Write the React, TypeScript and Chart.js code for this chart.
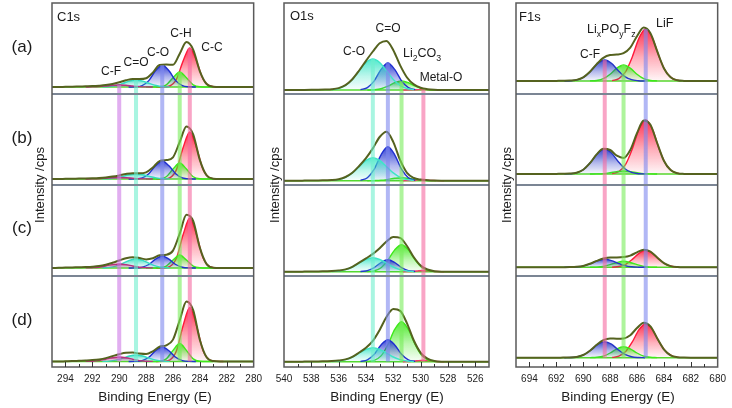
import React, { useEffect, useRef } from "react";
import { Chart, registerables } from "chart.js";

Chart.register(...registerables);

const FONT = '"Liberation Sans", Arial, Helvetica, sans-serif';
const STEP = 0.5;
const ROW_LABELS = ["(a)", "(b)", "(c)", "(d)"];
const ROW_OFFSET = [273, 182, 91, 0];
const Y_MAX = 364;

// ---------------- C1s ----------------
const C1S_RANGE = [280, 295];
const C1S_ENV_START = 295;
const C1S_BASE = [7, 6, 8, 5.5];
const C1S_ENV_A = [0, 0, 0.2, 0.3, 0.5, 0.7, 0.9, 1.3, 1.9, 3, 4.8, 6.7, 8, 7.9, 8.7, 14.4, 21.9, 22.4, 22.3, 33.3, 44.9, 37.4, 15.7, 3, 0.3, 0, 0, 0, 0, 0, 0];
const C1S_ENV_B = [0, 0, 0.2, 0.3, 0.4, 0.5, 0.7, 1, 1.5, 2.4, 3.6, 5, 5.8, 5.7, 6.7, 11.5, 17.9, 18.9, 21.7, 37, 52.6, 44.7, 18.9, 3.6, 0.3, 0, 0, 0, 0, 0, 0];
const C1S_ENV_C = [0, 0.2, 0.4, 0.6, 0.8, 1, 1.3, 1.9, 3.2, 5.2, 7.5, 9.8, 10.8, 10, 8.6, 9.7, 12.7, 13.2, 17.4, 34.4, 53.3, 47, 20.1, 3.9, 0.35, 0, 0, 0, 0, 0, 0];
const C1S_ENV_D = [0, 0, 0.2, 0.4, 0.7, 1, 1.4, 2.1, 3.4, 5.4, 7.3, 8.7, 8.9, 7.9, 7.4, 10.2, 14.8, 16.2, 21.9, 41.2, 60.1, 51.3, 21.6, 4.2, 0.4, 0, 0, 0, 0, 0, 0];
// first sample energy of each fitted component (C-F, C=O, C-O, C-H, C-C)
const C1S_COMP_START = [292.5, 291.25, 289.3, 288, 287.25];
const C1S_CF = [
  [0, 0.1, 0.4, 1, 1.7, 2, 1.7, 1, 0.4, 0.1, 0],
  [0, 0.1, 0.3, 0.8, 1.3, 1.5, 1.3, 0.8, 0.3, 0.1, 0],
  [0.1, 0.3, 0.8, 2, 3.4, 4, 3.4, 2, 0.8, 0.3, 0.1],
  [0.1, 0.3, 0.9, 2.3, 3.8, 4.5, 3.8, 2.3, 0.9, 0.3, 0.1],
];
const C1S_CEO = [
  [0.1, 0.4, 1.5, 3.5, 5.9, 7, 5.9, 3.5, 1.5, 0.4, 0.1],
  [0.1, 0.3, 1.1, 2.5, 4.2, 5, 4.2, 2.5, 1.1, 0.3, 0.1],
  [0.1, 0.6, 1.9, 4.5, 7.6, 9, 7.6, 4.5, 1.9, 0.6, 0.1],
  [0.1, 0.4, 1.4, 3.3, 5.5, 6.5, 5.5, 3.3, 1.4, 0.4, 0.1],
];
const C1S_CO = [
  [0, 0.2, 1.4, 6.4, 16.2, 22, 16.2, 6.4, 1.4, 0.2, 0],
  [0, 0.1, 1.1, 5.3, 13.2, 18, 13.2, 5.3, 1.1, 0.1, 0],
  [0, 0.1, 0.8, 3.5, 8.8, 12, 8.8, 3.5, 0.8, 0.1, 0],
  [0, 0.1, 0.9, 4.2, 10.7, 14.5, 10.7, 4.2, 0.9, 0.1, 0],
];
const C1S_CH = [
  [0, 0, 0.2, 2.2, 9.3, 15, 9.3, 2.2, 0.2, 0, 0],
  [0, 0, 0.2, 2.3, 9.9, 16, 9.9, 2.3, 0.2, 0, 0],
  [0, 0, 0.2, 1.9, 8, 13, 8, 1.9, 0.2, 0, 0],
  [0, 0, 0.2, 2.6, 11.1, 18, 11.1, 2.6, 0.2, 0, 0],
];
const C1S_CC = [
  [0, 0.1, 1, 7.6, 25.9, 39, 25.9, 7.6, 1, 0.1, 0],
  [0, 0.1, 1.2, 9.1, 31.2, 47, 31.2, 9.1, 1.2, 0.1, 0],
  [0, 0.1, 1.3, 9.7, 33.2, 50, 33.2, 9.7, 1.3, 0.1, 0],
  [0, 0.1, 1.4, 10.5, 35.8, 54, 35.8, 10.5, 1.4, 0.1, 0],
];

// ---------------- O1s ----------------
const O1S_RANGE = [525, 540];
const O1S_ENV_START = 540;
const O1S_BASE = [4, 4.3, 4.3, 5.3];
const O1S_ENV_A = [0, 0, 0, 0.1, 0.2, 0.3, 0.5, 0.8, 1.9, 4.8, 10.7, 19.5, 29.2, 38.5, 46.8, 49.1, 39.8, 24.6, 12.5, 5.6, 2.2, 0.8, 0.2, 0, 0, 0, 0, 0, 0, 0, 0];
const O1S_ENV_B = [0, 0, 0, 0.1, 0.2, 0.3, 0.5, 0.7, 1.5, 3.7, 7.9, 14.7, 22.5, 32.3, 43.7, 48.9, 38.6, 20.5, 7.8, 2.7, 1.1, 0.5, 0.15, 0, 0, 0, 0, 0, 0, 0, 0];
const O1S_ENV_C = [0, 0, 0, 0.1, 0.2, 0.3, 0.5, 0.7, 1.2, 2.3, 4.9, 9, 13.3, 17.8, 23.5, 30.2, 34.6, 33.8, 25.7, 14.4, 6.1, 2.2, 0.55, 0.05, 0, 0, 0, 0, 0, 0, 0];
const O1S_ENV_D = [0, 0, 0, 0.1, 0.2, 0.3, 0.5, 0.7, 1.2, 2.3, 4.9, 9.2, 13.9, 20.8, 31.8, 44.7, 52.6, 50.8, 38.3, 21.2, 8.9, 3.1, 0.7, 0.06, 0, 0, 0, 0, 0, 0, 0];
// C-O, C=O, Li2CO3, Metal-O
const O1S_COMP_START = [536.5, 534.4, 533.9, 531.3];
const O1S_CO = [
  [0.4, 1.5, 4.5, 10.5, 19.2, 27.5, 31, 27.5, 19.2, 10.5, 4.5, 1.5, 0.4],
  [0.3, 1.1, 3.4, 7.8, 14.2, 20.4, 23, 20.4, 14.2, 7.8, 3.4, 1.1, 0.3],
  [0.2, 0.7, 2, 4.7, 8.7, 12.4, 14, 12.4, 8.7, 4.7, 2, 0.7, 0.2],
  [0.2, 0.7, 2, 4.7, 8.7, 12.4, 14, 12.4, 8.7, 4.7, 2, 0.7, 0.2],
];
const O1S_CEO = [
  [0.4, 2.4, 9.2, 20.6, 27, 20.6, 9.2, 2.4, 0.4],
  [0.4, 3, 11.5, 25.9, 34, 25.9, 11.5, 3, 0.4],
  [0.2, 1.1, 4.1, 9.2, 12, 9.2, 4.1, 1.1, 0.2],
  [0.3, 1.9, 7.5, 16.8, 22, 16.8, 7.5, 1.9, 0.3],
];
const O1S_LCO = [
  [0, 0.3, 1.3, 3.8, 7.3, 9, 7.3, 3.8, 1.3, 0.3, 0],
  [0, 0.1, 0.4, 1.3, 2.4, 3, 2.4, 1.3, 0.4, 0.1, 0],
  [0.1, 0.9, 3.9, 11.5, 21.8, 27, 21.8, 11.5, 3.9, 0.9, 0.1],
  [0.2, 1.3, 5.8, 17, 32.3, 40, 32.3, 17, 5.8, 1.3, 0.2],
];
const O1S_MO = [
  [0, 0.1, 0.3, 0.5, 0.3, 0.1, 0],
  [0, 0.1, 0.3, 0.5, 0.3, 0.1, 0],
  [0, 0.2, 0.7, 1.2, 0.7, 0.2, 0],
  [0, 0.2, 0.9, 1.5, 0.9, 0.2, 0],
];

// ---------------- F1s ----------------
const F1S_RANGE = [680, 695];
const F1S_ENV_START = 695;
const F1S_BASE = [13, 11, 8.7, 9.3];
const F1S_ENV_A = [0, 0, 0, 0, 0, 0, 0.1, 0.2, 0.4, 1.1, 3.6, 9.2, 16.9, 23.2, 25.9, 26.4, 27.8, 33.4, 44.8, 53.4, 47.8, 29.9, 12.8, 3.7, 0.7, 0.1, 0, 0, 0, 0, 0];
const F1S_ENV_B = [0, 0, 0, 0, 0, 0, 0.1, 0.2, 0.4, 1.3, 4.3, 10.8, 19.6, 25.2, 24, 18.3, 16.1, 24, 40.8, 53.6, 49.2, 31, 13.3, 3.9, 0.8, 0.1, 0, 0, 0, 0, 0];
const F1S_ENV_C = [0, 0, 0, 0, 0, 0, 0, 0.1, 0.2, 0.5, 1.4, 3.5, 6.4, 8.8, 9.9, 9.9, 10.2, 11.7, 15, 17.6, 15.7, 9.8, 4.2, 1.2, 0.2, 0, 0, 0, 0, 0, 0];
const F1S_ENV_D = [0, 0, 0, 0, 0, 0, 0, 0.1, 0.2, 0.8, 2.7, 7, 12.9, 17.5, 19.2, 19, 19.3, 22.5, 29.6, 35, 31.3, 19.5, 8.4, 2.4, 0.5, 0.1, 0, 0, 0, 0, 0];
// C-F, LixPOyFz, LiF
const F1S_COMP_START = [691.4, 689.5, 687.85];
const F1S_CF = [
  [0, 0.3, 1.3, 4.4, 10.5, 17.7, 21, 17.7, 10.5, 4.4, 1.3, 0.3, 0],
  [0.1, 0.3, 1.6, 5.3, 12.5, 21, 25, 21, 12.5, 5.3, 1.6, 0.3, 0.1],
  [0, 0.1, 0.5, 1.7, 4, 6.7, 8, 6.7, 4, 1.7, 0.5, 0.1, 0],
  [0, 0.2, 1, 3.4, 8, 13.5, 16, 13.5, 8, 3.4, 1, 0.2, 0],
];
const F1S_LPF = [
  [0.1, 0.5, 2.3, 6.8, 12.9, 16, 12.9, 6.8, 2.3, 0.5, 0.1],
  [0, 0.1, 0.4, 1.3, 2.4, 3, 2.4, 1.3, 0.4, 0.1, 0],
  [0, 0.2, 0.9, 2.6, 4.8, 6, 4.8, 2.6, 0.9, 0.2, 0],
  [0.1, 0.4, 1.6, 4.7, 8.9, 11, 8.9, 4.7, 1.6, 0.4, 0.1],
];
const F1S_LIF = [
  [0.4, 2.4, 9.3, 24.1, 42.9, 52, 42.9, 24.1, 9.3, 2.4, 0.4],
  [0.4, 2.5, 9.6, 25.1, 44.6, 54, 44.6, 25.1, 9.6, 2.5, 0.4],
  [0.1, 0.8, 3, 7.9, 14, 17, 14, 7.9, 3, 0.8, 0.1],
  [0.3, 1.6, 6.1, 15.8, 28.1, 34, 28.1, 15.8, 6.1, 1.6, 0.3],
];

// ---------------- styles ----------------
const ENV_COLOR = "#55621f";
const BASELINE_COLOR = "#55d82c";
const TEXT_COLOR = "#1a1a1a";

type Part = { t: string; sub?: boolean };
type TextItem = { t?: string; parts?: Part[]; x: number; y: number; size: number; align?: string; rotate?: boolean };

const COLUMNS: any[] = [
  {
    key: "c1s",
    canvasLeft: 0,
    canvasWidth: 268,
    frameLeft: 52,
    frameRight: 257,
    range: C1S_RANGE,
    envStart: C1S_ENV_START,
    env: [C1S_ENV_A, C1S_ENV_B, C1S_ENV_C, C1S_ENV_D],
    base: C1S_BASE,
    comps: [
      { start: C1S_COMP_START[0], rows: C1S_CF, color: "#b8307e", band: "rgba(205,120,230,0.6)" },
      { start: C1S_COMP_START[1], rows: C1S_CEO, color: "#34dcc0", band: "rgba(110,238,205,0.6)" },
      { start: C1S_COMP_START[2], rows: C1S_CO, color: "#1f2fd0", band: "rgba(125,135,238,0.6)" },
      { start: C1S_COMP_START[3], rows: C1S_CH, color: "#3ee81a", band: "rgba(120,236,90,0.6)" },
      { start: C1S_COMP_START[4], rows: C1S_CC, color: "#ff1a3c", band: "rgba(245,105,160,0.6)" },
    ],
    texts: [
      { t: "C1s", x: 57, y: 17, size: 13, align: "left" },
      { t: "C-F", x: 111, y: 72, size: 12 },
      { t: "C=O", x: 136, y: 63, size: 12 },
      { t: "C-O", x: 158, y: 53, size: 12 },
      { t: "C-H", x: 181, y: 34, size: 12 },
      { t: "C-C", x: 212, y: 48, size: 12 },
      { t: ROW_LABELS[0], x: 22, y: 47, size: 17 },
      { t: ROW_LABELS[1], x: 22, y: 138, size: 17 },
      { t: ROW_LABELS[2], x: 22, y: 228, size: 17 },
      { t: ROW_LABELS[3], x: 22, y: 320, size: 17 },
      { t: "Intensity /cps", x: 40, y: 185, size: 13, rotate: true },
      { t: "Binding Energy (E)", x: 155, y: 397, size: 13.5 },
    ] as TextItem[],
  },
  {
    key: "o1s",
    canvasLeft: 262,
    canvasWidth: 238,
    frameLeft: 284,
    frameRight: 489,
    range: O1S_RANGE,
    envStart: O1S_ENV_START,
    env: [O1S_ENV_A, O1S_ENV_B, O1S_ENV_C, O1S_ENV_D],
    base: O1S_BASE,
    comps: [
      { start: O1S_COMP_START[0], rows: O1S_CO, color: "#3ee6c8", band: "rgba(110,238,205,0.6)" },
      { start: O1S_COMP_START[1], rows: O1S_CEO, color: "#1f2fd0", band: "rgba(125,135,238,0.6)" },
      { start: O1S_COMP_START[2], rows: O1S_LCO, color: "#3ee81a", band: "rgba(120,236,90,0.6)" },
      { start: O1S_COMP_START[3], rows: O1S_MO, color: "#ff3070", band: "rgba(245,105,160,0.6)" },
    ],
    texts: [
      { t: "O1s", x: 290, y: 16, size: 13, align: "left" },
      { t: "C=O", x: 388, y: 29, size: 12 },
      { t: "C-O", x: 354, y: 52, size: 12 },
      { parts: [{ t: "Li" }, { t: "2", sub: true }, { t: "CO" }, { t: "3", sub: true }], x: 403, y: 54, size: 12.5, align: "left" },
      { t: "Metal-O", x: 441, y: 78, size: 12 },
      { t: "Intensity /cps", x: 275, y: 185, size: 13, rotate: true },
      { t: "Binding Energy (E)", x: 387, y: 397, size: 13.5 },
    ] as TextItem[],
  },
  {
    key: "f1s",
    canvasLeft: 494,
    canvasWidth: 238,
    frameLeft: 516,
    frameRight: 721,
    range: F1S_RANGE,
    envStart: F1S_ENV_START,
    env: [F1S_ENV_A, F1S_ENV_B, F1S_ENV_C, F1S_ENV_D],
    base: F1S_BASE,
    comps: [
      { start: F1S_COMP_START[0], rows: F1S_CF, color: "#2535c8", band: "rgba(245,105,160,0.6)" },
      { start: F1S_COMP_START[1], rows: F1S_LPF, color: "#3ee81a", band: "rgba(120,236,90,0.6)" },
      { start: F1S_COMP_START[2], rows: F1S_LIF, color: "#ff1a3c", band: "rgba(125,135,238,0.6)" },
    ],
    texts: [
      { t: "F1s", x: 519, y: 17, size: 13, align: "left" },
      {
        parts: [{ t: "Li" }, { t: "x", sub: true }, { t: "PO" }, { t: "y", sub: true }, { t: "F" }, { t: "z", sub: true }],
        x: 587, y: 30, size: 12.5, align: "left",
      },
      { t: "LiF", x: 656, y: 24, size: 12.5, align: "left" },
      { t: "C-F", x: 590, y: 55, size: 12 },
      { t: "Intensity /cps", x: 507, y: 185, size: 13, rotate: true },
      { t: "Binding Energy (E)", x: 618, y: 397, size: 13.5 },
    ] as TextItem[],
  },
];

function hexToRgba(hex: string, a: number) {
  const h = hex.replace("#", "");
  const r = parseInt(h.slice(0, 2), 16);
  const g = parseInt(h.slice(2, 4), 16);
  const b = parseInt(h.slice(4, 6), 16);
  return `rgba(${r},${g},${b},${a})`;
}

function toPoints(start: number, values: number[], base: number, off: number) {
  return values.map((v, i) => ({ x: +(start - i * STEP).toFixed(3), y: off + base + v }));
}

function gradientFill(chart: any, hex: string, topVal: number, botVal: number) {
  const ys = chart.scales && chart.scales.y;
  if (!ys || !chart.chartArea) return hexToRgba(hex, 0.4);
  const t = ys.getPixelForValue(topVal);
  const b = ys.getPixelForValue(botVal);
  const g = chart.ctx.createLinearGradient(0, t, 0, b);
  g.addColorStop(0, hexToRgba(hex, 0.9));
  g.addColorStop(0.55, hexToRgba(hex, 0.35));
  g.addColorStop(1, hexToRgba(hex, 0.03));
  return g;
}

function buildDatasets(col: any) {
  const ds: any[] = [];
  for (let r = 0; r < 4; r++) {
    const off = ROW_OFFSET[r];
    const base = col.base[r];
    ds.push({
      data: toPoints(col.envStart, col.env[r], base, off),
      borderColor: ENV_COLOR,
      borderWidth: 2,
      fill: false,
      order: 0,
    });
    col.comps.forEach((c: any, i: number) => {
      const vals = c.rows[r];
      const peak = Math.max(...vals);
      ds.push({
        data: toPoints(c.start, vals, base, off),
        borderColor: c.color,
        borderWidth: 1.4,
        fill: { value: off + base },
        backgroundColor: (ctx: any) => gradientFill(ctx.chart, c.color, off + base + peak, off + base),
        order: 1 + i,
      });
    });
    ds.push({
      data: [
        { x: col.range[0], y: off + base },
        { x: col.range[1], y: off + base },
      ],
      borderColor: BASELINE_COLOR,
      borderWidth: 1.4,
      fill: false,
      order: 20,
    });
  }
  return ds;
}

function drawItem(ctx: CanvasRenderingContext2D, it: TextItem, dx: number) {
  ctx.save();
  ctx.fillStyle = TEXT_COLOR;
  ctx.textBaseline = "middle";
  const x = it.x - dx;
  if (it.parts) {
    let cx = x;
    for (const p of it.parts) {
      const size = p.sub ? it.size * 0.7 : it.size;
      ctx.font = `${size}px ${FONT}`;
      ctx.textAlign = "left";
      ctx.fillText(p.t, cx, it.y + (p.sub ? it.size * 0.38 : 0));
      cx += ctx.measureText(p.t).width;
    }
  } else if (it.rotate) {
    ctx.translate(x, it.y);
    ctx.rotate(-Math.PI / 2);
    ctx.font = `${it.size}px ${FONT}`;
    ctx.textAlign = "center";
    ctx.fillText(it.t || "", 0, 0);
  } else {
    ctx.font = `${it.size}px ${FONT}`;
    ctx.textAlign = (it.align as CanvasTextAlign) || "center";
    ctx.fillText(it.t || "", x, it.y);
  }
  ctx.restore();
}

function decorPlugin(col: any) {
  return {
    id: "decor_" + col.key,
    afterDatasetsDraw(chart: any) {
      const { ctx, scales } = chart;
      const xs = scales.x;
      const ys = scales.y;
      ctx.save();
      col.comps.forEach((c: any) => {
        const rowA = c.rows[0];
        const peakIdx = rowA.indexOf(Math.max(...rowA));
        const e = c.start - peakIdx * STEP;
        const px = xs.getPixelForValue(e);
        const top = ys.getPixelForValue(ROW_OFFSET[0] + col.base[0] + rowA[peakIdx]);
        const bot = ys.getPixelForValue(ROW_OFFSET[3] + col.base[3]);
        ctx.fillStyle = c.band;
        ctx.fillRect(px - 2, top, 4, bot - top);
      });
      ctx.restore();
    },
    afterDraw(chart: any) {
      const { ctx, chartArea, scales } = chart;
      const xs = scales.x;
      const ys = scales.y;
      const L = chartArea.left, R = chartArea.right, T = chartArea.top, B = chartArea.bottom;
      ctx.save();
      ctx.strokeStyle = "#7b8594";
      ctx.lineWidth = 2;
      for (let r = 0; r < 3; r++) {
        const y = Math.round(ys.getPixelForValue(ROW_OFFSET[r]));
        ctx.beginPath();
        ctx.moveTo(L, y);
        ctx.lineTo(R, y);
        ctx.stroke();
      }
      ctx.strokeStyle = "#5a5a5a";
      ctx.lineWidth = 1.5;
      ctx.strokeRect(L, T, R - L, B - T);
      ctx.strokeStyle = "#333";
      ctx.lineWidth = 1;
      for (let e = col.range[0] + 1; e < col.range[1]; e++) {
        const len = e % 2 === 0 ? 5 : 3;
        const x = Math.round(xs.getPixelForValue(e)) + 0.5;
        ctx.beginPath();
        ctx.moveTo(x, B);
        ctx.lineTo(x, B - len);
        ctx.stroke();
      }
      ctx.restore();
      col.texts.forEach((it: TextItem) => drawItem(ctx, it, col.canvasLeft));
    },
  };
}

function makeConfig(col: any): any {
  return {
    type: "line",
    data: { datasets: buildDatasets(col) },
    options: {
      animation: false,
      responsive: false,
      devicePixelRatio: 1,
      events: [],
      layout: {
        padding: {
          left: col.frameLeft - col.canvasLeft,
          right: col.canvasLeft + col.canvasWidth - col.frameRight,
          top: 3,
          bottom: 0,
        },
      },
      plugins: { legend: { display: false }, tooltip: { enabled: false } },
      elements: { point: { radius: 0 }, line: { cubicInterpolationMode: "monotone" } },
      scales: {
        x: {
          type: "linear",
          reverse: true,
          min: col.range[0],
          max: col.range[1],
          afterFit: (s: any) => {
            s.height = 41;
          },
          grid: { display: false, drawTicks: false },
          border: { display: false },
          ticks: {
            stepSize: 2,
            includeBounds: false,
            autoSkip: false,
            maxRotation: 0,
            minRotation: 0,
            color: "#1e1e1e",
            font: { family: FONT, size: 10 },
            padding: 6,
          },
        },
        y: { type: "linear", min: 0, max: Y_MAX, display: false },
      },
    },
    plugins: [decorPlugin(col)],
  };
}

export default function App() {
  const r0 = useRef<HTMLCanvasElement | null>(null);
  const r1 = useRef<HTMLCanvasElement | null>(null);
  const r2 = useRef<HTMLCanvasElement | null>(null);
  const refs = [r0, r1, r2];

  useEffect(() => {
    const charts = COLUMNS.map((col, i) => new Chart(refs[i].current as HTMLCanvasElement, makeConfig(col)));
    return () => charts.forEach((c) => c.destroy());
  }, []);

  return (
    <div style={{ position: "absolute", left: 0, top: 0, width: 732, height: 408, background: "#fff", overflow: "hidden" }}>
      {COLUMNS.map((col, i) => (
        <canvas
          key={col.key}
          ref={refs[i]}
          width={col.canvasWidth}
          height={408}
          style={{ position: "absolute", left: col.canvasLeft, top: 0, width: col.canvasWidth, height: 408 }}
        />
      ))}
    </div>
  );
}
